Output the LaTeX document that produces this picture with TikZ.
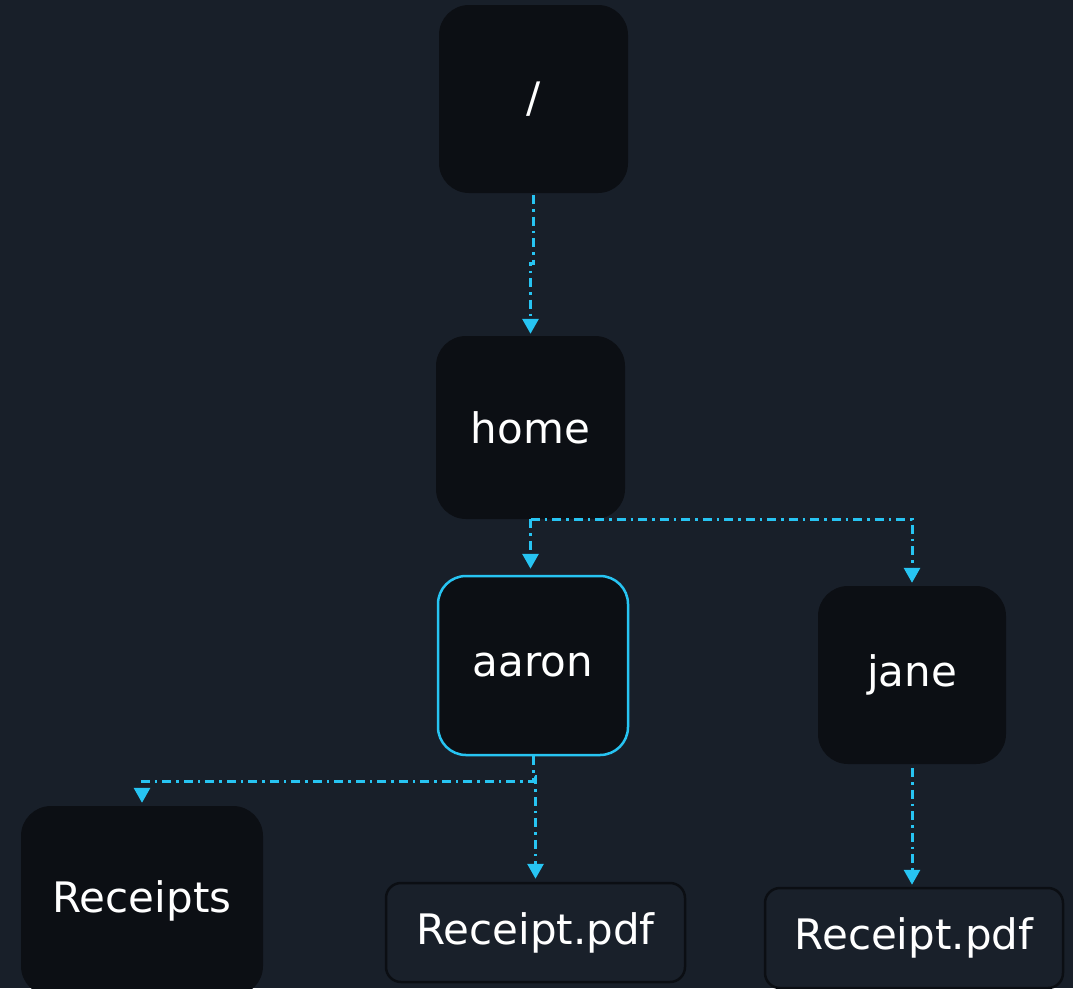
\documentclass[tikz,border=0pt]{standalone}
\usepackage{fontspec}
\setmainfont{DejaVu Sans}
\usetikzlibrary{arrows.meta}
\definecolor{bgc}{HTML}{181F29}
\definecolor{nodefill}{HTML}{0C0F14}
\definecolor{cyanc}{HTML}{27C4F2}
\definecolor{filefill}{HTML}{19202A}
\definecolor{fileborder}{HTML}{0B0E13}
\tikzset{
  dirbox/.style={fill=nodefill, draw=none, rounded corners=30pt, inner sep=0pt,
    text=white, font=\fontsize{42}{50}\selectfont},
  selbox/.style={dirbox, draw=cyanc, line width=2.5pt, rounded corners=28pt},
  filebox/.style={fill=filefill, draw=fileborder, line width=2.5pt, rounded corners=15pt,
    inner sep=0pt, text=white, font=\fontsize{42}{50}\selectfont},
  link/.style={draw=cyanc, line width=3pt,
    dash pattern=on 9pt off 5pt on 2.5pt off 5pt,
    -{Triangle[width=16pt,length=15pt]}, fill=none},
}
\begin{document}
\begin{tikzpicture}[x=1pt,y=-1pt]
\fill[bgc] (0,0) rectangle (1073,988);
\useasboundingbox (0,0) rectangle (1073,988);
\clip (0,0) rectangle (1073,988);
\node[dirbox, minimum width=189pt, minimum height=188pt] (root) at (533.5,99) {/};
\node[dirbox, minimum width=189pt, minimum height=183pt] (home) at (530.5,427.5) {home};
\node[selbox, minimum width=190pt, minimum height=179pt] (aaron) at (533,665.5) {aaron};
\node[dirbox, minimum width=188pt, minimum height=178pt] (jane) at (912,675) {jane};
\node[dirbox, minimum width=242pt, minimum height=190pt] (receipts) at (142,901) {Receipts};
\node[filebox, minimum width=299pt, minimum height=99pt] (pdfa) at (535.5,932.5) {Receipt.pdf};
\node[filebox, minimum width=298pt, minimum height=100pt] (pdfb) at (914,938) {Receipt.pdf};

\draw[link, shorten <=2pt, shorten >=2pt] (root.south) -- ++(0,70) -| (home.north);
\draw[link, shorten >=6pt] (home.south) -- (home.south |- aaron.north);
\draw[link, shorten >=3pt] (home.south) -| (jane.north);
\draw[link, shorten >=3pt] (aaron.south) -- ++(0,25) -| (receipts.north);
\draw[link, shorten >=3pt] (aaron.south) -- ++(0,20) -| (pdfa.north);
\draw[link, shorten <=4pt, shorten >=2pt] (jane.south) -- (jane.south |- pdfb.north);
\end{tikzpicture}
\end{document}
